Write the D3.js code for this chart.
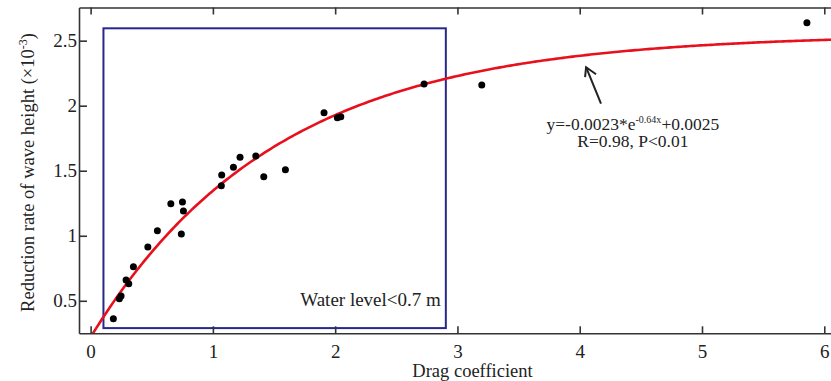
<!DOCTYPE html>
<html>
<head>
<meta charset="utf-8">
<script src="https://cdn.jsdelivr.net/npm/d3@7/dist/d3.min.js"></script>
<style>
body { margin: 0; background: #fff; }
text { font-family: "Liberation Serif", "Times New Roman", serif; fill: #222; }
</style>
</head>
<body>
<svg id="chart" width="831" height="381"></svg>
<script>
// drag coefficient vs reduction rate (x10^-3)
var dragCoef = [0.186, 0.235, 0.249, 0.290, 0.312, 0.350, 0.468, 0.546, 0.656, 0.751,
		0.759, 0.742, 1.072, 1.069, 1.168, 1.222, 1.351, 1.416, 1.593, 1.909,
		2.018, 2.046, 2.727, 3.199, 5.858];
var reduction = [0.362, 0.515, 0.536, 0.659, 0.631, 0.762, 0.913, 1.038, 1.246, 1.259,
		 1.190, 1.013, 1.467, 1.385, 1.526, 1.603, 1.613, 1.454, 1.508, 1.946,
		 1.908, 1.915, 2.167, 2.159, 2.638];

var xTicks = [0, 1, 2, 3, 4, 5, 6];
var yTicks = [0.5, 1, 1.5, 2, 2.5];

// fitted curve y = c - a*exp(-b*x)
var fitC = 2.55, fitA = 2.33, fitB = 0.66;

// "Water level<0.7 m" box, in data units
var boxX = [0.105, 2.905];
var boxY = [0.29, 2.595];

var svg = d3.select("#chart");

var xScale = d3.scaleLinear()
    .domain([-0.095, 6.055])
    .range([79, 831]);

var yScale = d3.scaleLinear()
    .domain([0.25, 2.755])
    .range([333.3, 7.5]);

var plot = svg.append("g");

// blue box
plot.append("rect")
    .attr("x", xScale(boxX[0]))
    .attr("y", yScale(boxY[1]))
    .attr("width", xScale(boxX[1]) - xScale(boxX[0]))
    .attr("height", yScale(boxY[0]) - yScale(boxY[1]))
    .attr("fill", "none")
    .attr("stroke", "#27288a")
    .attr("stroke-width", 2);

plot.append("text")
    .attr("x", xScale(boxX[1]) - 5)
    .attr("y", yScale(0.46))
    .attr("text-anchor", "end")
    .attr("font-size", 19)
    .text("Water level<0.7 m");

// clip for curve
svg.append("clipPath").attr("id", "clip")
    .append("rect")
    .attr("x", 79).attr("y", 7.5)
    .attr("width", 752).attr("height", 333.3 - 7.5);

var curveXs = d3.range(0, 301).map(function(i){ return -0.095 + i * 6.15 / 300; });

var lineFunction = d3.line()
    .x(function(d){ return xScale(d); })
    .y(function(d){ return yScale(fitC - fitA * Math.exp(-fitB * d)); });

plot.append("path")
    .datum(curveXs)
    .attr("clip-path", "url(#clip)")
    .attr("d", lineFunction)
    .attr("fill", "none")
    .attr("stroke", "#e8101c")
    .attr("stroke-width", 2.6);

plot.selectAll("circle")
    .data(d3.zip(dragCoef, reduction))
    .enter()
    .append("circle")
    .attr("cx", function(d){ return xScale(d[0]); })
    .attr("cy", function(d){ return yScale(d[1]); })
    .attr("r", 3.5)
    .attr("fill", "#000");

// axes, ticks inside
var axisColor = "#333";
var fmt = d3.format("~g");

var bottomAxis = svg.append("g")
    .attr("transform", "translate(0," + yScale.range()[0] + ")")
    .call(d3.axisBottom(xScale).tickValues(xTicks).tickFormat(fmt)
	  .tickSizeInner(-7).tickSizeOuter(0).tickPadding(11));

var topAxis = svg.append("g")
    .attr("transform", "translate(0," + yScale.range()[1] + ")")
    .call(d3.axisTop(xScale).tickValues(xTicks).tickSizeInner(-7).tickSizeOuter(0).tickFormat(""));

var leftAxis = svg.append("g")
    .attr("transform", "translate(" + xScale.range()[0] + ",0)")
    .call(d3.axisLeft(yScale).tickValues(yTicks).tickFormat(fmt)
	  .tickSizeInner(-8).tickSizeOuter(0).tickPadding(2));

[bottomAxis, topAxis, leftAxis].forEach(function(ax){
    ax.select(".domain").attr("stroke", axisColor).attr("stroke-width", 1.6);
    ax.selectAll(".tick line").attr("stroke", axisColor).attr("stroke-width", 1.6);
    ax.selectAll(".tick text")
	.attr("font-family", "Liberation Serif, serif")
	.attr("font-size", 19)
	.attr("fill", "#222");
});

// axis titles
svg.append("text")
    .attr("x", 472.5)
    .attr("y", 377)
    .attr("text-anchor", "middle")
    .attr("font-size", 18.5)
    .text("Drag coefficient");

var yTitle = svg.append("text")
    .attr("transform", "translate(34,172.5) rotate(-90)")
    .attr("text-anchor", "middle")
    .attr("font-size", 18.5);
yTitle.append("tspan").text("Reduction rate of wave height (\u00d710");
yTitle.append("tspan").attr("font-size", 12).attr("dy", -7).text("-3");
yTitle.append("tspan").attr("dy", 7).text(")");

// arrow to the curve
var arrowTail = [4.174, 2.016], arrowTip = [4.052, 2.296];
var ann = svg.append("g");
ann.append("line")
    .attr("x1", xScale(arrowTail[0])).attr("y1", yScale(arrowTail[1]))
    .attr("x2", xScale(arrowTip[0])).attr("y2", yScale(arrowTip[1]))
    .attr("stroke", "#222").attr("stroke-width", 2);
var tx = xScale(arrowTip[0]), ty = yScale(arrowTip[1]);
ann.append("path")
    .attr("d", "M" + (tx - 1) + "," + (ty + 10) + "L" + tx + "," + ty + "L" + (tx + 10) + "," + (ty + 7))
    .attr("fill", "none").attr("stroke", "#222").attr("stroke-width", 2);

var eq = ann.append("text")
    .attr("x", xScale(4.435))
    .attr("y", 130)
    .attr("text-anchor", "middle")
    .attr("font-size", 17.5);
eq.append("tspan").text("y=-0.0023*e");
eq.append("tspan").attr("font-size", 10).attr("dy", -7).text("-0.64x");
eq.append("tspan").attr("dy", 7).text("+0.0025");

ann.append("text")
    .attr("x", xScale(4.435))
    .attr("y", 147)
    .attr("text-anchor", "middle")
    .attr("font-size", 17.5)
    .text("R=0.98, P<0.01");
</script>
</body>
</html>
